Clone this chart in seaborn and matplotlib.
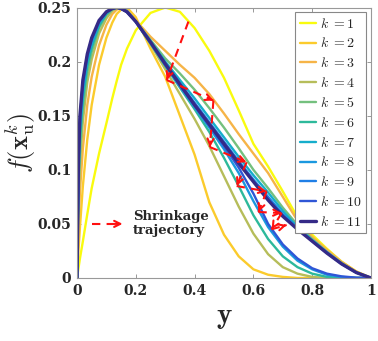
import matplotlib
matplotlib.use("Agg")
import matplotlib.pyplot as plt
import seaborn as sns
import pandas as pd

# sample points
y_grid = [0, 0.005, 0.01, 0.02, 0.035, 0.05, 0.075, 0.1, 0.12, 0.135, 0.15, 0.17, 0.2,
          0.25, 0.3, 0.35, 0.4, 0.45, 0.5, 0.55, 0.6, 0.65, 0.7, 0.75, 0.8, 0.85, 0.9, 0.95, 1.0]

f_k1 = [0, 0.009, 0.018, 0.034, 0.059, 0.083, 0.115, 0.143, 0.166, 0.182, 0.197, 0.212, 0.229,
        0.245, 0.25, 0.246, 0.231, 0.21, 0.185, 0.155, 0.124, 0.103, 0.08, 0.056, 0.04, 0.027, 0.015, 0.006, 0]
f_k2 = [0, 0.025, 0.047, 0.085, 0.128, 0.16, 0.197, 0.222, 0.236, 0.244, 0.248, 0.25, 0.241,
        0.212, 0.186, 0.15, 0.114, 0.07, 0.04, 0.02, 0.008, 0.003, 0.001, 0, 0, 0, 0, 0, 0]
f_k3 = [0, 0.05, 0.08, 0.12, 0.16, 0.186, 0.215, 0.234, 0.244, 0.248, 0.25, 0.248, 0.238,
        0.223, 0.21, 0.197, 0.185, 0.17, 0.152, 0.133, 0.115, 0.097, 0.075, 0.053, 0.038, 0.026, 0.015, 0.006, 0]
f_k4 = [0, 0.07, 0.105, 0.145, 0.181, 0.202, 0.226, 0.24, 0.247, 0.249, 0.25, 0.247, 0.237,
        0.216, 0.193, 0.17, 0.147, 0.122, 0.094, 0.066, 0.041, 0.022, 0.01, 0.004, 0.001, 0, 0, 0, 0]
f_k5 = [0, 0.08, 0.118, 0.157, 0.19, 0.209, 0.231, 0.243, 0.248, 0.25, 0.25, 0.247, 0.237,
        0.22, 0.203, 0.189, 0.174, 0.157, 0.139, 0.12, 0.1, 0.083, 0.065, 0.049, 0.036, 0.024, 0.014, 0.005, 0]
f_k6 = [0, 0.088, 0.128, 0.165, 0.196, 0.213, 0.233, 0.244, 0.249, 0.25, 0.249, 0.246, 0.237,
        0.217, 0.196, 0.176, 0.156, 0.135, 0.111, 0.085, 0.058, 0.036, 0.02, 0.01, 0.004, 0.001, 0, 0, 0]
f_k7 = [0, 0.095, 0.136, 0.171, 0.2, 0.216, 0.235, 0.245, 0.249, 0.25, 0.249, 0.246, 0.237,
        0.219, 0.2, 0.183, 0.166, 0.148, 0.13, 0.112, 0.095, 0.079, 0.062, 0.047, 0.035, 0.024, 0.013, 0.005, 0]
f_k8 = [0, 0.1, 0.141, 0.175, 0.203, 0.218, 0.236, 0.245, 0.249, 0.25, 0.249, 0.246, 0.237,
        0.217, 0.197, 0.177, 0.158, 0.139, 0.119, 0.097, 0.071, 0.047, 0.029, 0.016, 0.008, 0.003, 0.001, 0, 0]
f_k9 = [0, 0.104, 0.145, 0.178, 0.205, 0.22, 0.237, 0.246, 0.249, 0.25, 0.249, 0.246, 0.237,
        0.218, 0.198, 0.18, 0.162, 0.144, 0.126, 0.108, 0.091, 0.075, 0.059, 0.046, 0.034, 0.023, 0.013, 0.005, 0]
f_k10 = [0, 0.107, 0.148, 0.181, 0.206, 0.221, 0.237, 0.246, 0.249, 0.25, 0.249, 0.246, 0.237,
         0.218, 0.197, 0.178, 0.159, 0.141, 0.122, 0.102, 0.078, 0.05, 0.031, 0.018, 0.009, 0.004, 0.0015, 0.0003, 0]
f_k11 = [0, 0.11, 0.15, 0.183, 0.207, 0.222, 0.238, 0.246, 0.249, 0.25, 0.249, 0.246, 0.237,
         0.218, 0.198, 0.179, 0.16, 0.142, 0.124, 0.106, 0.089, 0.072, 0.057, 0.045, 0.034, 0.023, 0.013, 0.005, 0]

curves = [f_k1, f_k2, f_k3, f_k4, f_k5, f_k6, f_k7, f_k8, f_k9, f_k10, f_k11]
colors = ["#F9FB0E", "#FBCB2C", "#F6B447", "#B6BD5A", "#74C07E", "#2DB99B",
          "#15ADCB", "#1A98DF", "#1F7FE6", "#2F56D6", "#352A87"]

# shrinkage trajectory (zig-zag between odd / even k)
traj_x = [0.379, 0.305, 0.464, 0.452, 0.577, 0.543, 0.645, 0.617, 0.696, 0.662, 0.713]
traj_y = [0.237, 0.183, 0.164, 0.121, 0.107, 0.085, 0.080, 0.061, 0.060, 0.045, 0.049]

rows = []
for i, f in enumerate(curves):
    for yy, ff in zip(y_grid, f):
        rows.append({"y": yy, "f": ff, "k": i + 1})
df = pd.DataFrame(rows)

sns.set_style("ticks")
plt.rcParams["mathtext.fontset"] = "cm"
plt.rcParams["font.family"] = ["DejaVu Serif"]

fig, ax = plt.subplots(figsize=(3.78, 3.41), dpi=100)
fig.subplots_adjust(left=0.2037, right=0.9815, bottom=0.1848, top=0.978)

for i in range(11):
    d = df[df["k"] == i + 1]
    sns.lineplot(data=d, x="y", y="f", color=colors[i], lw=2.4 if i == 10 else 1.7,
                 label=r"$k\ {=}" + str(i + 1) + "$", ax=ax, estimator=None)

red = "#FF1010"
for i in range(len(traj_x) - 1):
    x0, y0, x1, y1 = traj_x[i], traj_y[i], traj_x[i + 1], traj_y[i + 1]
    ax.plot([x0, x1], [y0, y1], ls=(0, (4, 3)), color=red, lw=1.5)
    ax.annotate("", xy=(x1, y1), xytext=(x1 - 0.12 * (x1 - x0), y1 - 0.12 * (y1 - y0)),
                arrowprops=dict(arrowstyle="->", color=red, lw=1.5, mutation_scale=11,
                                shrinkA=0, shrinkB=0))

# legend entry for the trajectory
ax.plot([0.051, 0.135], [0.05, 0.05], ls=(0, (4, 3)), color=red, lw=1.5)
ax.annotate("", xy=(0.155, 0.05), xytext=(0.13, 0.05),
            arrowprops=dict(arrowstyle="->", color=red, lw=1.5, mutation_scale=11,
                            shrinkA=0, shrinkB=0))
ax.text(0.19, 0.05, "Shrinkage\ntrajectory", fontsize=9.5, fontweight="bold",
        va="center", ha="left", linespacing=1.1)

ax.set_xlim(0, 1)
ax.set_ylim(0, 0.25)
ax.set_xticks([0, 0.2, 0.4, 0.6, 0.8, 1])
ax.set_xticklabels(["0", "0.2", "0.4", "0.6", "0.8", "1"])
ax.set_yticks([0, 0.05, 0.1, 0.15, 0.2, 0.25])
ax.set_yticklabels(["0", "0.05", "0.1", "0.15", "0.2", "0.25"])
for lab in ax.get_xticklabels() + ax.get_yticklabels():
    lab.set_fontweight("bold")
    lab.set_fontsize(10)
ax.tick_params(direction="in", top=True, right=True, length=3, width=0.6,
               color="#888888", pad=4)
for s in ax.spines.values():
    s.set_color("#999999")
    s.set_linewidth(0.8)

ax.set_xlabel(r"$\mathbf{y}$", fontsize=21, labelpad=4)
ax.set_ylabel(r"$f(\mathbf{x}_{\mathrm{u}}^{k})$", fontsize=19, labelpad=0)

leg = ax.legend(loc="upper right", fontsize=10, handlelength=1.2, handletextpad=0.25,
                labelspacing=0.42, borderpad=0.3, borderaxespad=0.35,
                fancybox=False, framealpha=1, edgecolor="#888888")
leg.get_frame().set_linewidth(0.8)

fig.savefig("out.png", dpi=100)
